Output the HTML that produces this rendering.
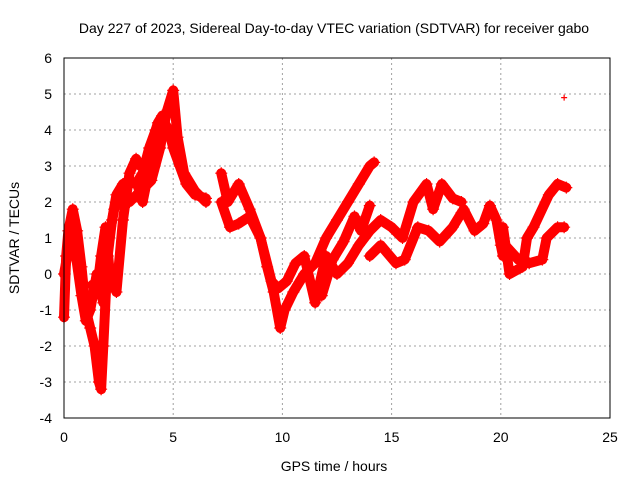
<!DOCTYPE html>
<html><head><meta charset="utf-8"><style>
body{margin:0;background:#fff}
svg{display:block;font-family:"Liberation Sans",sans-serif}
</style></head><body>
<svg id="chart" width="640" height="480" xmlns="http://www.w3.org/2000/svg">
<text x="334" y="33" font-size="14" text-anchor="middle">Day 227 of 2023, Sidereal Day-to-day VTEC variation (SDTVAR) for receiver gabo</text>
<text x="334" y="471" font-size="14" text-anchor="middle">GPS time / hours</text>
<text transform="translate(19,238) rotate(-90)" font-size="14" text-anchor="middle">SDTVAR / TECUs</text>
<g id="grid"></g><g id="ticks"></g><g id="marks"></g>
<rect x="64" y="58" width="546" height="360" fill="none" stroke="#000" stroke-width="1"/>
</svg>
<script>
const xTicks=[0,5,10,15,20,25];
const yTicks=[-4,-3,-2,-1,0,1,2,3,4,5,6];
const trackA_x=[0,0.1,0.2,0.4,0.6,0.8,1.0,1.2,1.4,1.6,1.7,1.8,2.0,2.2,2.4,2.7,3.0,3.3,3.6,3.9,4.2,4.5,4.8,5.0,5.3,5.6,6.0,6.5];
const trackA_y=[-1.2,0.5,1.2,1.8,1.2,0.2,-1.0,-1.5,-2.0,-3.0,-3.2,-2.0,0.5,1.5,2.2,2.5,2.6,2.5,2.8,3.5,4.0,4.3,4.0,3.5,3.0,2.5,2.2,2.1];
const trackB_x=[0,0.3,0.5,0.8,1.0,1.2,1.5,1.8,2.0,2.3,2.6,3.0,3.5,4.0,4.4,4.7,5.0,5.2,5.5,6.0,6.5];
const trackB_y=[0,1.0,0.7,-0.6,-1.3,-1.0,0,-0.8,0.8,1.8,2.3,2.0,2.3,2.6,3.5,4.5,5.1,3.8,2.8,2.3,2.0];
const trackF_x=[1.3,1.5,1.7,1.9,2.1,2.4,2.7,3.0,3.3,3.5];
const trackF_y=[-0.3,-0.5,0.5,1.3,0.0,-0.5,1.5,2.8,3.2,3.0];
const trackG_x=[3.4,3.6,3.8,4.0,4.3,4.5];
const trackG_y=[2.4,2.0,2.6,3.6,4.2,4.4];
const trackC_x=[7.2,7.5,8.0,8.5,9.0,9.3,9.6,9.9,10.1,10.5,11.0,11.5,12.0,12.5,13.0,13.5,14.0,14.2];
const trackC_y=[2.8,2.0,2.5,1.8,1.0,0.2,-0.5,-1.5,-1.0,-0.5,0,0.3,1.0,1.5,2.0,2.5,3.0,3.1];
const trackD_x=[7.2,7.6,8.0,8.5,9.0,9.5,9.8,10.2,10.6,11.0,11.5,12.0,12.5,13.0,13.5,14.0,14.5,15.0,15.5,16.0,16.6,16.9,17.3,17.8,18.2];
const trackD_y=[2.0,1.3,1.4,1.6,1.0,-0.2,-0.4,-0.2,0.3,0.5,-0.8,0.5,0,0.3,0.8,1.2,1.5,1.3,1.0,2.0,2.5,1.8,2.5,2.1,2.0];
const trackE_x=[14.0,14.5,15.2,15.6,16.2,16.7,17.2,17.8,18.2];
const trackE_y=[0.5,0.8,0.3,0.4,1.3,1.2,0.9,1.3,1.7];
const trackH_x=[11.8,12.3,12.8,13.3,13.6,14.0];
const trackH_y=[-0.6,0.4,0.9,1.6,1.2,1.9];
const trackI_x=[18.3,18.8,19.2,19.5,19.8,20.0,20.1];
const trackI_y=[1.8,1.2,1.4,1.9,1.5,0.8,0.5];
const trackJ_x=[20.1,20.4,21.0,21.2,21.5,22.2,22.6,23.0];
const trackJ_y=[1.3,0.0,0.2,1.0,1.3,2.2,2.5,2.4];
const trackK_x=[20.2,20.8,21.3,21.9,22.1,22.6,22.9];
const trackK_y=[0.8,0.4,0.3,0.4,1.0,1.3,1.3];
const outlier_x=[22.9];
const outlier_y=[4.9];
const NS="http://www.w3.org/2000/svg";
const X=v=>64+v*546/25, Y=v=>58+(6-v)*36;
function mk(t,a,p){const e=document.createElementNS(NS,t);for(const k in a)e.setAttribute(k,a[k]);p.appendChild(e);return e;}
const grid=document.getElementById('grid'),ticks=document.getElementById('ticks'),marks=document.getElementById('marks');
xTicks.forEach(v=>{
 if(v>0&&v<25){const g=mk('line',{x1:X(v),x2:X(v),y1:58,y2:418,stroke:'#a0a0a0','stroke-dasharray':'2,3'},grid);
 }
 const t=mk('text',{x:X(v),y:442,'font-size':14,'text-anchor':'middle'},ticks);t.textContent=v;
 
});
yTicks.forEach(v=>{
 if(v>-4&&v<6){const g=mk('line',{x1:64,x2:610,y1:Y(v),y2:Y(v),stroke:'#a0a0a0','stroke-dasharray':'2,3'},grid);
 }
 const t=mk('text',{x:52,y:Y(v)+5,'font-size':14,'text-anchor':'end'},ticks);t.textContent=v;
 
});
const tracks=[[trackA_x,trackA_y],[trackB_x,trackB_y],[trackF_x,trackF_y],[trackG_x,trackG_y],[trackC_x,trackC_y],[trackD_x,trackD_y],[trackE_x,trackE_y],[trackH_x,trackH_y],[trackI_x,trackI_y],[trackJ_x,trackJ_y],[trackK_x,trackK_y]];
tracks.forEach(([xs,ys])=>{
 const pl=mk('polyline',{points:xs.map((x,i)=>X(x)+','+Y(ys[i])).join(' '),fill:'none',stroke:'#f00','stroke-width':10,'stroke-linejoin':'round','stroke-linecap':'round'},marks);
 
 xs.forEach((x,i)=>{const p=mk('path',{d:`M${X(x)-6},${Y(ys[i])}h12M${X(x)},${Y(ys[i])-6}v12`,stroke:'#f00','stroke-width':1.2},marks);
 });
});
outlier_x.forEach((x,i)=>{const p=mk('path',{d:`M${X(x)-3},${Y(outlier_y[i])}h6M${X(x)},${Y(outlier_y[i])-3}v6`,stroke:'#f00','stroke-width':1.2},marks);
});
</script>
</body></html>
